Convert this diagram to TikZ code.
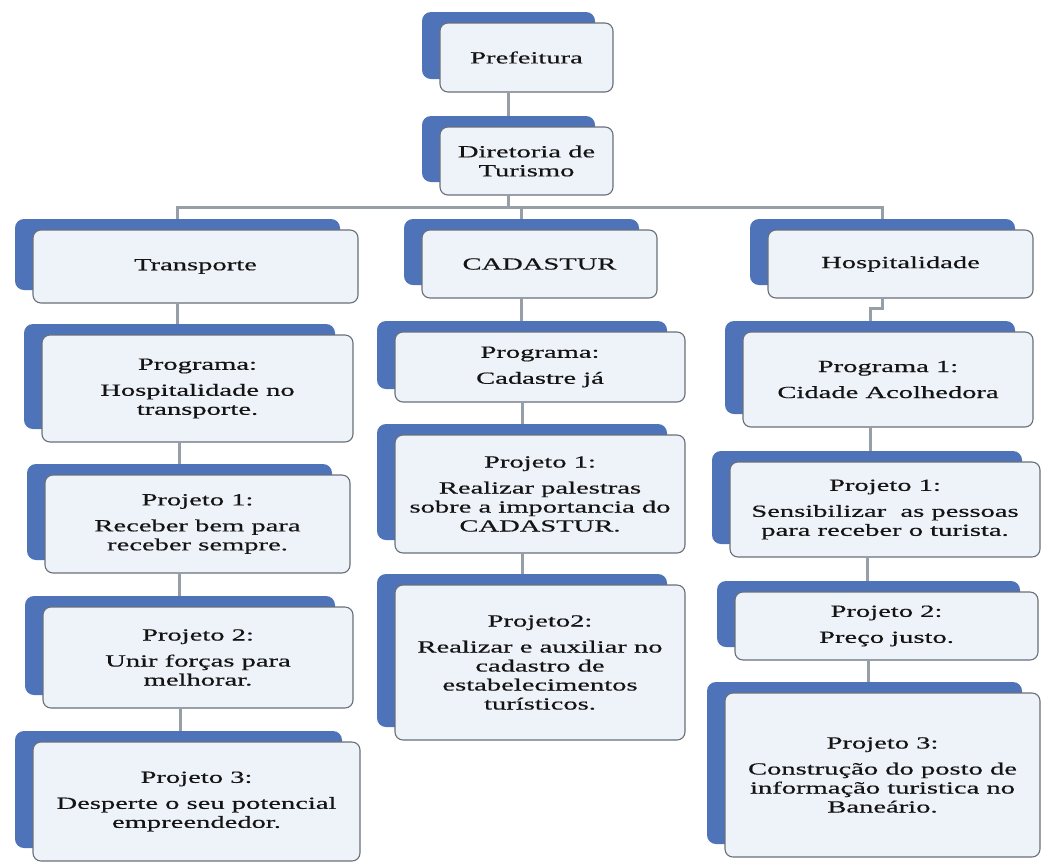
\documentclass[tikz,border=0pt]{standalone}
\usepackage{fontspec}
\setmainfont{Liberation Serif}[FakeStretch=1.68,FakeBold=0.5]
\usetikzlibrary{calc}
\definecolor{backblue}{RGB}{79,115,184}
\definecolor{frontfill}{RGB}{238,242,249}
\definecolor{frontline}{RGB}{105,112,122}
\definecolor{connc}{RGB}{150,158,168}
\definecolor{txt}{RGB}{20,20,20}
\tikzset{
  backbox/.style={draw=none, fill=backblue, rounded corners=9pt, inner sep=0pt, outer sep=0pt, anchor=north west},
  frontbox/.style={draw=frontline, line width=1.1pt, fill=frontfill, rounded corners=8pt, inner sep=0pt, outer sep=0pt, anchor=north west, align=center, font=\fontsize{17}{19}\selectfont, text=txt},
  conn/.style={draw=connc, line width=3pt},
}
\newcommand\orgbox[6]{%
  \node[backbox, minimum width={(#4-#2)*1pt}, minimum height={(#5-#3-2)*1pt}] (#1-bk) at (#2-18,#3-11) {};
  \node[frontbox, minimum width={(#4-#2)*1pt}, minimum height={(#5-#3)*1pt}] (#1) at (#2,#3) {#6};
}
\begin{document}
\begin{tikzpicture}[x=1pt,y=-1pt]
\fill[white] (0,0) rectangle (1041,863);
\useasboundingbox (0,0) rectangle (1041,863);
\orgbox{pref}{440}{23}{613}{92}{Prefeitura}
\orgbox{dir}{440}{127}{613}{195}{Diretoria de\\Turismo}
\orgbox{trans}{33}{230}{358}{303}{Transporte}
\orgbox{cad}{422}{230}{657}{298}{CADASTUR}
\orgbox{hosp}{768}{230}{1033}{298}{Hospitalidade}
\orgbox{tprog}{42}{335}{353}{442}{Programa:\\[7pt]Hospitalidade no\\transporte.}
\orgbox{tpa}{45}{475}{350}{573}{Projeto 1:\\[7pt]Receber bem para\\receber sempre.}
\orgbox{tpb}{43}{607}{353}{708}{Projeto 2:\\[7pt]Unir forças para\\melhorar.}
\orgbox{tpc}{33}{742}{360}{861}{Projeto 3:\\[7pt]Desperte o seu potencial\\empreendedor.}
\orgbox{cprog}{395}{332}{685}{402}{Programa:\\[7pt]Cadastre já}
\orgbox{cpa}{395}{435}{685}{553}{Projeto 1:\\[7pt]Realizar palestras\\sobre a importancia do\\CADASTUR.}
\orgbox{cpb}{395}{585}{685}{740}{Projeto2:\\[7pt]Realizar e auxiliar no\\cadastro de\\estabelecimentos\\turísticos.}
\orgbox{hprog}{743}{332}{1033}{427}{Programa 1:\\[7pt]Cidade Acolhedora}
\orgbox{hpa}{730}{462}{1040}{557}{Projeto 1:\\[7pt]Sensibilizar\ \ as pessoas\\para receber o turista.}
\orgbox{hpb}{735}{592}{1038}{660}{Projeto 2:\\[7pt]Preço justo.}
\orgbox{hpc}{725}{693}{1040}{857}{Projeto 3:\\[7pt]Construção do posto de\\informação turistica no\\Baneário.}
% connectors
\draw[conn] (pref.south -| pref-bk.center) -- (dir-bk.north -| pref-bk.center);
\draw[conn] (dir.south -| dir-bk.center) -- ++(0,12) coordinate (bus);
\draw[conn] (trans-bk.north) |- (bus) -| (hosp-bk.north);
\draw[conn] (bus) -| (cad-bk.north);
\draw[conn] (trans.south -| trans-bk.center) -- (tprog-bk.north -| trans-bk.center);
\draw[conn] (tprog.south -| tprog-bk.center) -- (tpa-bk.north -| tprog-bk.center);
\draw[conn] (tpa.south -| tpa-bk.center) -- (tpb-bk.north -| tpa-bk.center);
\draw[conn] (tpb.south -| tpb-bk.center) -- (tpc-bk.north -| tpb-bk.center);
\draw[conn] (cad.south -| cad-bk.center) -- (cprog-bk.north -| cad-bk.center);
\draw[conn] (cprog.south -| cprog-bk.center) -- (cpa-bk.north -| cprog-bk.center);
\draw[conn] (cpa.south -| cpa-bk.center) -- (cpb-bk.north -| cpa-bk.center);
\draw[conn] (hosp.south -| hosp-bk.center) -- ++(0,10) -| (hprog-bk.north);
\draw[conn] (hprog.south -| hprog-bk.center) -- (hpa-bk.north -| hprog-bk.center);
\draw[conn] (hpa.south -| hpa-bk.center) -- (hpb-bk.north -| hpa-bk.center);
\draw[conn] (hpb.south -| hpb-bk.center) -- (hpc-bk.north -| hpb-bk.center);
\end{tikzpicture}
\end{document}
